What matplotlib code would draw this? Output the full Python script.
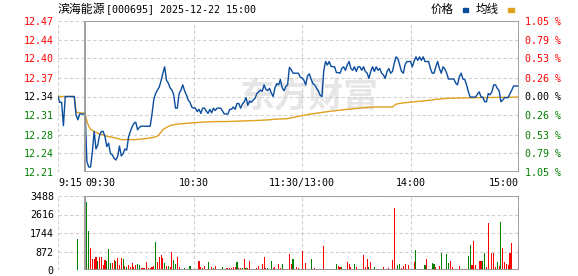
import matplotlib
matplotlib.use("Agg")
import matplotlib.pyplot as plt
from matplotlib.patches import Rectangle

plt.rcParams["font.family"] = ["DejaVu Sans Mono", "Noto Sans CJK SC"]

W, H = 578, 276
pre_close = 12.34

# axis labels, top to bottom
price_labels = ["12.47", "12.44", "12.40", "12.37", "12.34", "12.31", "12.28", "12.24", "12.21"]
pct_labels = ["1.05 %", "0.79 %", "0.53 %", "0.26 %", "0.00 %", "0.26 %", "0.53 %", "0.79 %", "1.05 %"]
pct_levels = [1.05, 0.79, 0.53, 0.26, 0.0, -0.26, -0.53, -0.79, -1.05]
time_ticks = [-15, 0, 60, 120, 180, 240]
time_labels = ["9:15", "09:30", "10:30", "11:30/13:00", "14:00", "15:00"]
vol_ticks = [0, 872, 1744, 2616, 3488]

# call auction 9:15-9:30 (minutes relative to 9:30)
pre_min = [-15, -14, -13, -12, -11, -10, -9, -8, -7, -6, -5, -4, -3, -2, -1, 0]
pre_price = [12.34, 12.33, 12.33, 12.29, 12.34, 12.34, 12.34, 12.34, 12.34, 12.34,
             12.308, 12.30, 12.31, 12.31, 12.31, 12.31]
pre_avg_min = [-15, -6, -5, 0]
pre_avg = [12.34, 12.34, 12.313, 12.311]
pre_vol_min = [-4]
pre_vol = [1445]

# one value per minute, 09:30 .. 15:00 (241 points)
price = [
    12.312, 12.228, 12.219, 12.219, 12.245, 12.280, 12.250, 12.257, 12.274, 12.280,
    12.280, 12.271, 12.254, 12.260, 12.242, 12.240, 12.234, 12.231, 12.237, 12.255,
    12.238, 12.242, 12.250, 12.248, 12.270, 12.280, 12.288, 12.294, 12.296, 12.283,
    12.287, 12.289, 12.289, 12.289, 12.289, 12.289, 12.289, 12.310, 12.335, 12.345,
    12.351, 12.356, 12.367, 12.380, 12.391, 12.368, 12.363, 12.355, 12.351, 12.343,
    12.320, 12.320, 12.345, 12.351, 12.360, 12.350, 12.343, 12.334, 12.330, 12.322,
    12.320, 12.320, 12.314, 12.318, 12.311, 12.320, 12.320, 12.315, 12.311, 12.318,
    12.312, 12.320, 12.316, 12.320, 12.320, 12.320, 12.315, 12.310, 12.310, 12.310,
    12.318, 12.318, 12.322, 12.318, 12.328, 12.328, 12.320, 12.327, 12.331, 12.338,
    12.325, 12.332, 12.330, 12.334, 12.337, 12.345, 12.348, 12.351, 12.349, 12.360,
    12.352, 12.350, 12.354, 12.346, 12.340, 12.355, 12.362, 12.360, 12.369, 12.355,
    12.350, 12.357, 12.360, 12.390, 12.386, 12.380, 12.380, 12.380, 12.380, 12.373,
    12.372, 12.368, 12.360, 12.375, 12.379, 12.370, 12.362, 12.360, 12.354, 12.350,
    12.342, 12.340, 12.384, 12.400, 12.394, 12.400, 12.392, 12.391, 12.391, 12.381,
    12.381, 12.380, 12.388, 12.391, 12.385, 12.394, 12.400, 12.388, 12.385, 12.391,
    12.383, 12.391, 12.391, 12.385, 12.391, 12.383, 12.380, 12.371, 12.383, 12.391,
    12.383, 12.391, 12.385, 12.388, 12.380, 12.377, 12.371, 12.383, 12.388, 12.380,
    12.383, 12.397, 12.408, 12.405, 12.394, 12.383, 12.380, 12.395, 12.400, 12.400,
    12.400, 12.391, 12.401, 12.408, 12.402, 12.408, 12.402, 12.408, 12.400, 12.400,
    12.400, 12.388, 12.380, 12.380, 12.391, 12.400, 12.388, 12.380, 12.391, 12.387,
    12.380, 12.370, 12.370, 12.370, 12.370, 12.363, 12.360, 12.374, 12.380, 12.370,
    12.369, 12.360, 12.348, 12.339, 12.339, 12.339, 12.339, 12.344, 12.348, 12.339,
    12.339, 12.331, 12.331, 12.345, 12.343, 12.348, 12.360, 12.360, 12.354, 12.350,
    12.331, 12.334, 12.338, 12.338, 12.338, 12.345, 12.351, 12.358, 12.358, 12.358,
    12.358,
]

avg_min = [0, 1, 2, 3, 5, 7, 10, 12, 15, 18, 20, 28, 34, 38, 40, 41, 43, 45, 47, 50,
           52, 56, 60, 65, 72, 78, 87, 96, 102, 105, 112, 118, 125, 134, 145, 155, 160,
           170, 172, 176, 182, 189, 194, 201, 218, 240]
avg = [12.311, 12.297, 12.289, 12.284, 12.280, 12.277, 12.274, 12.272, 12.270, 12.268,
       12.266, 12.266, 12.268, 12.270, 12.272, 12.275, 12.283, 12.287, 12.290, 12.292,
       12.293, 12.294, 12.295, 12.296, 12.297, 12.297, 12.298, 12.299, 12.300, 12.301,
       12.302, 12.306, 12.310, 12.314, 12.318, 12.321, 12.322, 12.322, 12.327, 12.329,
       12.331, 12.333, 12.335, 12.337, 12.338, 12.339]

vol = [
    0, 3205, 1838, 1037, 503, 503, 597, 424, 597, 597,
    236, 471, 424, 990, 314, 314, 471, 440, 566, 236,
    566, 503, 189, 157, 236, 126, 314, 126, 236, 283,
    236, 79, 110, 79, 377, 79, 110, 126, 204, 1320,
    393, 628, 691, 566, 314, 189, 189, 126, 848, 471,
    283, 628, 126, 63, 47, 79, 47, 47, 189, 47,
    63, 63, 63, 440, 126, 79, 189, 63, 377, 63,
    126, 94, 189, 63, 63, 63, 126, 63, 79, 79,
    79, 79, 157, 126, 377, 79, 79, 94, 534, 79,
    79, 424, 31, 31, 31, 79, 189, 31, 283, 597,
    94, 94, 63, 424, 79, 126, 31, 283, 94, 283,
    31, 31, 31, 754, 283, 518, 31, 126, 110, 31,
    895, 31, 314, 31, 31, 518, 31, 79, 31, 31,
    31, 31, 1131, 31, 31, 31, 31, 31, 31, 283,
    189, 126, 126, 31, 31, 377, 283, 126, 31, 283,
    126, 31, 31, 31, 691, 126, 518, 126, 377, 63,
    126, 31, 31, 31, 63, 126, 31, 31, 94, 31,
    471, 2922, 63, 220, 283, 94, 189, 283, 31, 220,
    31, 31, 377, 943, 31, 31, 31, 31, 236, 518,
    31, 31, 346, 283, 126, 63, 189, 817, 31, 63,
    754, 346, 424, 126, 63, 31, 63, 189, 31, 31,
    31, 31, 659, 1178, 236, 1367, 236, 31, 424, 424,
    424, 817, 126, 2199, 31, 817, 817, 126, 393, 189,
    2278, 1053, 393, 283, 236, 817, 1288, 31, 31, 31,
    1131,
]
# r = red (up) bar, g = green (down) bar, one per minute
vol_dir = list(
    "rggrrrrgrr"
    "rrgggrrgrr"
    "rgrgrrrrrg"
    "grrrrrrrrg"
    "rrrrgrgrrg"
    "grrgggrrgr"
    "rrrrrrrrgr"
    "rgrrrrgrrr"
    "rrrrgrrgrg"
    "rrrrrrrrrr"
    "rgggrrrrrg"
    "rrrrrgrrrr"
    "rrrrrgrrrr"
    "rrrrrrrrgg"
    "rrgrrrrrrg"
    "rrrrrrrgrr"
    "grrrgrrgrr"
    "rrrggrrrrr"
    "rrrgrrrggr"
    "rrggrrrgrr"
    "ggrrrrrrrr"
    "rrggrrrrrr"
    "ggrrrrrrgr"
    "grrrrrrgrr"
    "r"
)

RED, GREEN = "#ff0000", "#008000"
BLUE, ORANGE = "#0a4c9e", "#e0a020"
GRID, BOX = "#cfcfcf", "#999999"
dash = (0, (3, 2.2))


def box(l, t, r, b):
    return [l / W, 1 - b / H, (r - l) / W, (b - t) / H]


fig = plt.figure(figsize=(W / 100, H / 100), dpi=100)
ax = fig.add_axes(box(58, 21, 519, 172))
axv = fig.add_axes(box(58, 196, 519, 270))

levels = [pre_close * (1 + p / 100) for p in pct_levels]
lo, hi = levels[-1], levels[0]
label_colors = [RED] * 4 + ["#000000"] + [GREEN] * 4

# ---- price panel
ax.set_xlim(-15, 240)
ax.set_ylim(lo, hi)
for s in ax.spines.values():
    s.set_visible(False)
ax.hlines(levels, -15, 240, colors=GRID, linestyles=dash, lw=0.8, zorder=1)
ax.vlines([-15, 60, 120, 180], lo, hi, colors=GRID, linestyles=dash, lw=0.8, zorder=1)
ax.text(0.545, 0.50, "东方财富", transform=ax.transAxes, fontsize=25, fontweight="bold",
        family="Noto Sans CJK SC", color="#e6e6e6", ha="center", va="center", zorder=0.5)

ax.plot(pre_avg_min, pre_avg, color=ORANGE, lw=1.0, zorder=2)
ax.plot(pre_min, pre_price, color=BLUE, lw=1.0, zorder=3)
ax.plot(avg_min, avg, color=ORANGE, lw=1.0, zorder=2)
ax.plot(range(len(price)), price, color=BLUE, lw=1.0, zorder=3)

ax.vlines([0, 240], lo, hi, colors=BOX, lw=1.3, zorder=4)
ax.hlines([lo, hi], 0, 240, colors=BOX, lw=1.3, zorder=4)

ax.set_yticks(levels)
ax.set_yticklabels(price_labels)
for lbl, c in zip(ax.get_yticklabels(), label_colors):
    lbl.set_color(c)
ax.tick_params(axis="y", length=0, pad=3, labelsize=7.2)

ax.set_xticks(time_ticks)
ax.set_xticklabels(time_labels)
xl = ax.get_xticklabels()
xl[0].set_ha("left")
xl[1].set_ha("left")
xl[-1].set_ha("right")
ax.tick_params(axis="x", length=0, pad=4.5, labelsize=7.2)

axr = ax.twinx()
axr.set_ylim(lo, hi)
for s in axr.spines.values():
    s.set_visible(False)
axr.set_yticks(levels)
axr.set_yticklabels(pct_labels)
for lbl, c in zip(axr.get_yticklabels(), label_colors):
    lbl.set_color(c)
axr.tick_params(axis="y", length=0, pad=4, labelsize=7.2)

# ---- volume panel
vmax = vol_ticks[-1]
axv.set_xlim(-15, 240)
axv.set_ylim(0, vmax)
for s in axv.spines.values():
    s.set_visible(False)
axv.hlines(vol_ticks, -15, 240, colors=GRID, linestyles=dash, lw=0.8, zorder=1)
axv.vlines([-15, 60, 120, 180], 0, vmax, colors=GRID, linestyles=dash, lw=0.8, zorder=1)
colors = [RED if d == "r" else GREEN for d in vol_dir]
axv.bar(range(len(vol)), vol, width=0.6, color=colors, zorder=2)
axv.bar(pre_vol_min, pre_vol, width=0.6, color=GREEN, zorder=2)
axv.vlines([0, 240], 0, vmax, colors=BOX, lw=1.3, zorder=4)
axv.hlines([0, vmax], 0, 240, colors=BOX, lw=1.3, zorder=4)
axv.set_xticks([])
axv.set_yticks(vol_ticks)
axv.set_yticklabels([str(v) for v in vol_ticks])
axv.tick_params(axis="y", length=0, pad=3, labelsize=7.2, labelcolor="#000000")

# ---- header
fig.text(57 / W, 1 - 9 / H, "滨海能源", family="Noto Sans CJK SC", fontsize=8.6,
         va="center", ha="left")
fig.text(106 / W, 1 - 9 / H, "[000695] 2025-12-22 15:00", fontsize=7.2,
         va="center", ha="left")
fig.text(431 / W, 1 - 9 / H, "价格", family="Noto Sans CJK SC", fontsize=8.3,
         va="center", ha="left")
fig.add_artist(Rectangle((463 / W, 1 - 11.5 / H), 5 / W, 4 / H, color=BLUE,
                         transform=fig.transFigure))
fig.text(476 / W, 1 - 9 / H, "均线", family="Noto Sans CJK SC", fontsize=8.3,
         va="center", ha="left")
fig.add_artist(Rectangle((508 / W, 1 - 11.5 / H), 6 / W, 4 / H, color=ORANGE,
                         transform=fig.transFigure))

fig.savefig("out.png", dpi=100)
